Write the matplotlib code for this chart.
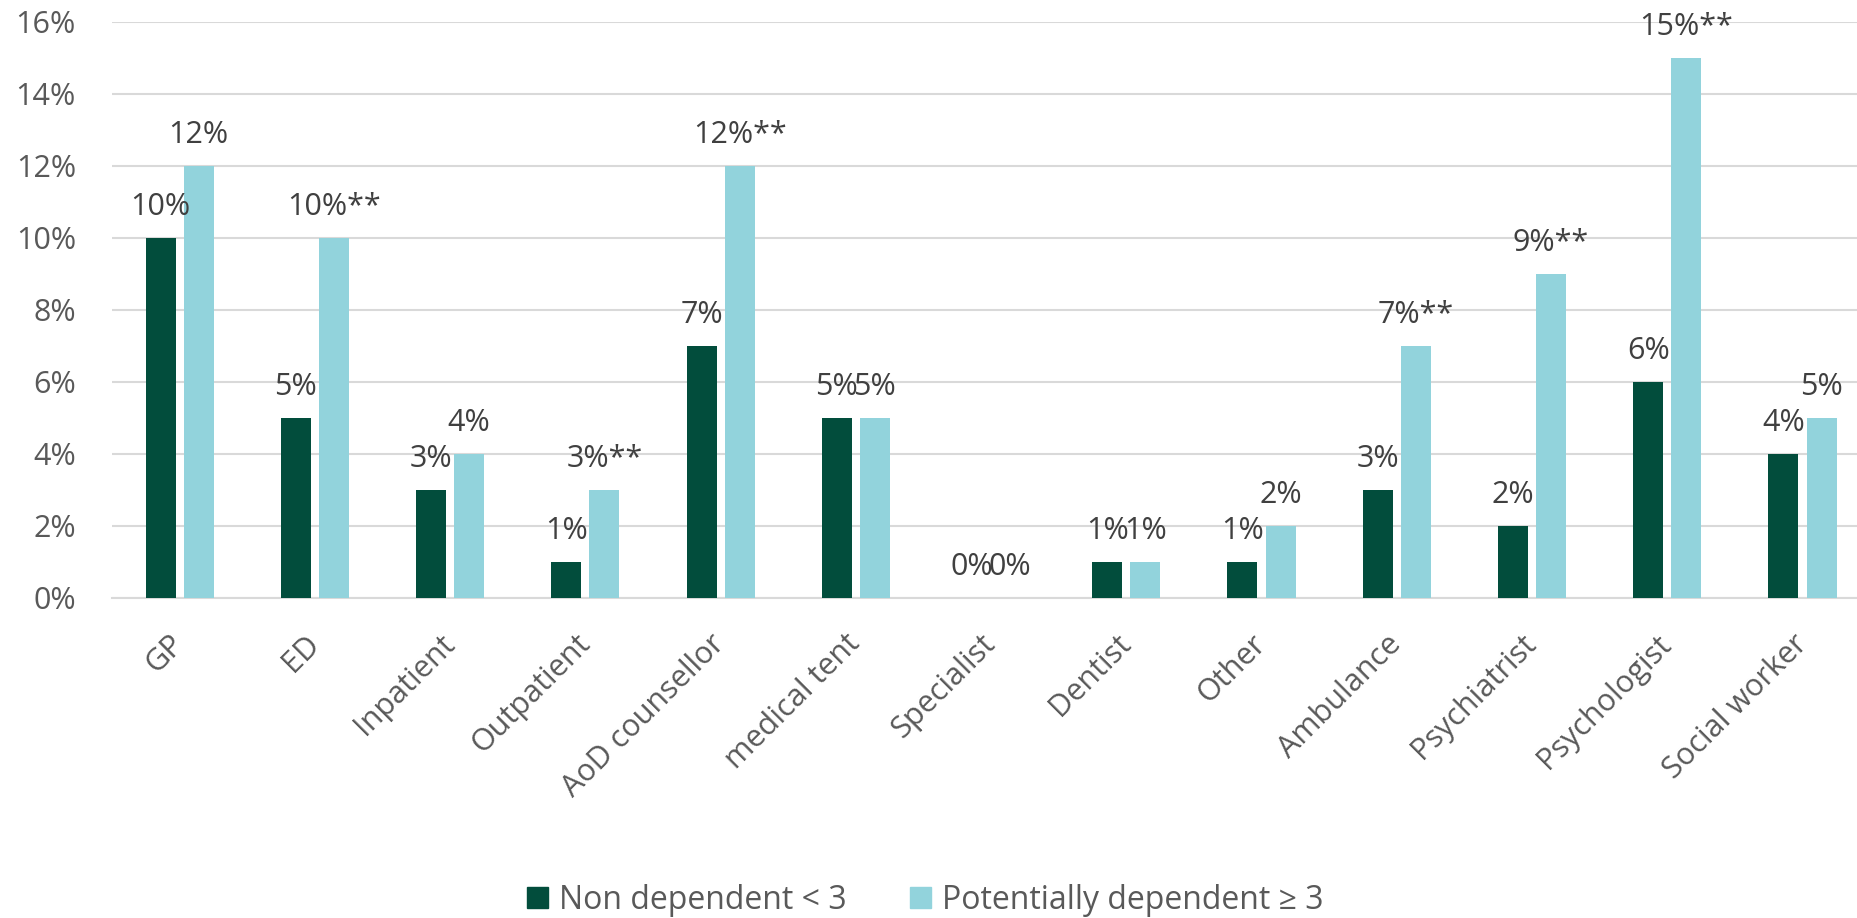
import matplotlib
matplotlib.use("Agg")
import matplotlib.pyplot as plt
import numpy as np
from matplotlib.patches import Patch

categories = ["GP", "ED", "Inpatient", "Outpatient", "AoD counsellor", "medical tent",
              "Specialist", "Dentist", "Other", "Ambulance", "Psychiatrist",
              "Psychologist", "Social worker"]
non_dependent = [10, 5, 3, 1, 7, 5, 0, 1, 1, 3, 2, 6, 4]
potentially_dependent = [12, 10, 4, 3, 12, 5, 0, 1, 2, 7, 9, 15, 5]
significance = ["", "**", "", "**", "**", "", "", "", "", "**", "**", "**", ""]
series_names = ["Non dependent < 3", "Potentially dependent \u2265 3"]
y_ticks = [0, 2, 4, 6, 8, 10, 12, 14, 16]

DARK = "#024D3C"
LIGHT = "#92D3DC"
TICK = "#595959"
LABEL = "#404040"
FS = 22

plt.rcParams["font.family"] = ["Open Sans", "DejaVu Sans"]

fig = plt.figure(figsize=(18.58, 9.18), dpi=100)
ax = fig.add_axes([0.0603, 0.3486, 0.9462, 0.6275])

x = np.arange(len(categories))
w = 0.222
off = 0.141
ax.bar(x - off, non_dependent, w, color=DARK, zorder=3)
ax.bar(x + off, potentially_dependent, w, color=LIGHT, zorder=3)

for xi, v in zip(x, non_dependent):
    ax.annotate(f"{v}%", (xi - off, v), xytext=(0, 16.5), textcoords="offset points",
                ha="center", va="baseline", fontsize=FS, color=LABEL,
                annotation_clip=False)
for xi, v, s in zip(x, potentially_dependent, significance):
    ax.annotate(f"{v}%{s}", (xi + off, v), xytext=(0, 16.5), textcoords="offset points",
                ha="center", va="baseline", fontsize=FS, color=LABEL,
                annotation_clip=False)

ax.set_xlim(-0.5, len(categories) - 0.5)
ax.set_ylim(0, 16)
ax.set_yticks(y_ticks)
ax.set_yticklabels([f"{t}%" for t in y_ticks], fontsize=FS, color=TICK)
ax.yaxis.grid(True, color="#D9D9D9", linewidth=1.5, zorder=0)
ax.set_axisbelow(True)
for side in ["top", "right", "left"]:
    ax.spines[side].set_visible(False)
ax.spines["bottom"].set_color("#D9D9D9")
ax.spines["bottom"].set_linewidth(1.5)
ax.tick_params(axis="y", length=0, pad=26)
ax.tick_params(axis="x", length=0, pad=30)
ax.set_xticks(x)
ax.set_xticklabels(categories, rotation=45, ha="right", va="center",
                   rotation_mode="anchor", fontsize=FS, color=TICK)

handles = [Patch(color=DARK), Patch(color=LIGHT)]
fig.legend(handles, series_names, loc="center", bbox_to_anchor=(0.498, 0.019),
           ncol=2, frameon=False, fontsize=23, labelcolor=TICK,
           handlelength=0.65, handleheight=0.65, handletextpad=0.35,
           columnspacing=2.0)

fig.savefig("out.png", dpi=100)
